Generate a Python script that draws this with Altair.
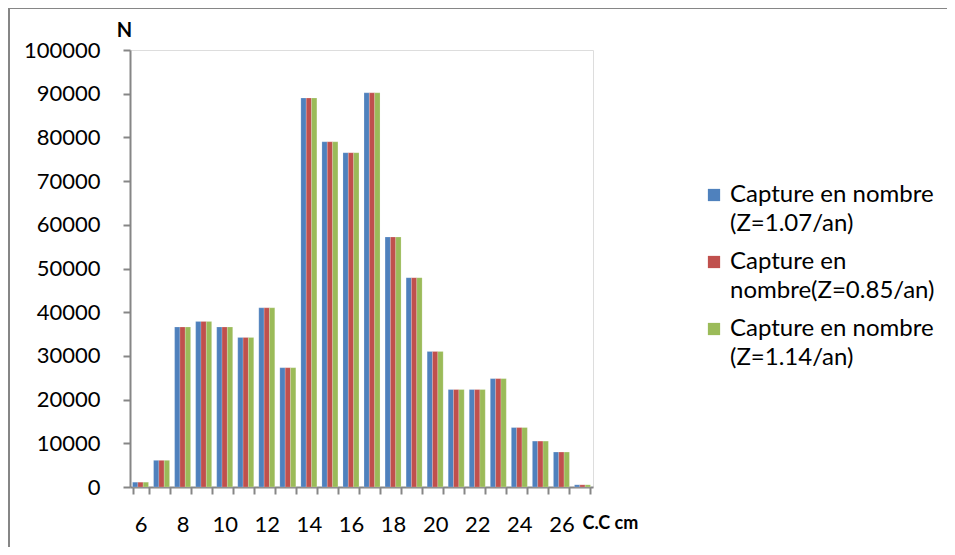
import altair as alt
import pandas as pd

categories = list(range(6, 28))
series_names = [
    "Capture en nombre|(Z=1.07/an)",
    "Capture en|nombre(Z=0.85/an)",
    "Capture en nombre|(Z=1.14/an)",
]
s1 = [1100, 6100, 36600, 37900, 36600, 34200, 41000, 27300, 89000, 79000, 76500,
      90200, 57200, 47900, 31000, 22300, 22300, 24800, 13600, 10500, 8000, 500]
s2 = [1100, 6100, 36600, 37900, 36600, 34200, 41000, 27300, 89000, 79000, 76500,
      90200, 57200, 47900, 31000, 22300, 22300, 24800, 13600, 10500, 8000, 500]
s3 = [1100, 6100, 36600, 37900, 36600, 34200, 41000, 27300, 89000, 79000, 76500,
      90200, 57200, 47900, 31000, 22300, 22300, 24800, 13600, 10500, 8000, 500]
colors = ["#4F81BD", "#C0504D", "#9BBB59"]
y_ticks = list(range(0, 100001, 10000))

rows = []
for name, vals in zip(series_names, [s1, s2, s3]):
    for c, v in zip(categories, vals):
        rows.append({"cat": c, "series": name, "value": v})
df = pd.DataFrame(rows)

FONT = "Lato"
GRAY = "#868686"

bars = alt.Chart(df).mark_bar(stroke="white", strokeWidth=0.3, strokeOpacity=0.6).encode(
    x=alt.X("cat:O", sort=categories,
            scale=alt.Scale(paddingInner=0.24, paddingOuter=0.12),
            axis=alt.Axis(title="C.C cm", labelAngle=0, tickBand="extent",
                          labelExpr="toNumber(datum.value) % 2 == 0 ? datum.label : ''",
                          labelFont=FONT, labelFontSize=22, labelColor="#000",
                          labelPadding=20, tickSize=7, tickColor=GRAY, domainColor=GRAY,
                          domainWidth=2, tickWidth=2,
                          titleFont=FONT, titleFontSize=18, titleFontWeight="bold",
                          titleColor="#000", titleAlign="left", titleBaseline="middle",
                          titleX=452, titleY=36)),
    xOffset=alt.XOffset("series:N", sort=series_names, scale=alt.Scale(paddingInner=0, paddingOuter=0)),
    y=alt.Y("value:Q", scale=alt.Scale(domain=[0, 100000], nice=False),
            axis=alt.Axis(title="N", values=y_ticks, format="d", grid=False,
                          labelFont=FONT, labelFontSize=22, labelColor="#000",
                          labelPadding=23, tickSize=7, tickColor=GRAY, domainColor=GRAY,
                          domainWidth=2, tickWidth=2,
                          titleFont=FONT, titleFontSize=20, titleFontWeight="bold",
                          titleColor="#000", titleAngle=0, titleAlign="center",
                          titleBaseline="middle", titleX=-6, titleY=-20)),
    color=alt.Color("series:N", sort=series_names,
                    scale=alt.Scale(domain=series_names, range=colors),
                    legend=alt.Legend(title=None, orient="none", legendX=572, legendY=133,
                                      symbolType="square", symbolSize=150, symbolStrokeWidth=0,
                                      labelExpr="split(datum.label, '|')",
                                      labelFont=FONT, labelFontSize=24, labelColor="#000",
                                      labelLimit=400, rowPadding=14, labelOffset=4)),
)

frame = alt.Chart(pd.DataFrame({"d": [0]})).mark_rect(
    fillOpacity=0, stroke=GRAY, strokeWidth=2
).encode(
    x=alt.value(-121), x2=alt.value(830), y=alt.value(-42), y2=alt.value(500)
)

chart = alt.layer(frame, bars).properties(
    width=463, height=437,
    autosize=alt.AutoSizeParams(type="none"),
    padding={"left": 122, "top": 42, "right": 354, "bottom": 60},
).configure_view(stroke=None).configure(style={"guide-label": {"lineHeight": 29}})

chart.save("out.html", embed_options={"renderer": "svg", "actions": False})
